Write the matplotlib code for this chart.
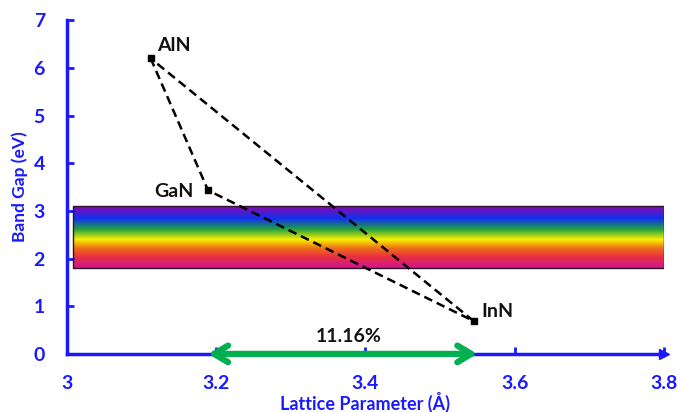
import numpy as np
import matplotlib
matplotlib.use("Agg")
import matplotlib.pyplot as plt
from matplotlib.colors import LinearSegmentedColormap

# lattice parameter (A) and band gap (eV) of the nitrides
materials = ["AlN", "GaN", "InN"]
lattice = [3.112, 3.189, 3.545]
band_gap = [6.2, 3.43, 0.69]

# visible band and mismatch arrow
visible_x = [3.008, 3.8]
visible_gap = [1.8, 3.1]
mismatch_x = [3.189, 3.55]
mismatch_label = "11.16%"

x_ticks = [3, 3.2, 3.4, 3.6, 3.8]
x_tick_labels = ["3", "3.2", "3.4", "3.6", "3.8"]
y_ticks = [0, 1, 2, 3, 4, 5, 6, 7]

BLUE = "#1a1aff"
plt.rcParams['font.family'] = ['Lato', 'DejaVu Sans']

fig = plt.figure(figsize=(6.78, 4.12), dpi=100)
ax = fig.add_axes([0.099, 0.141, 0.88, 0.81])

# rainbow band (bottom -> top)
rainbow = LinearSegmentedColormap.from_list("rb", [
    (0.0, "#d0168e"), (0.18, "#e83040"), (0.32, "#f07018"),
    (0.46, "#f8f000"), (0.63, "#20a040"), (0.80, "#1030f0"),
    (1.0, "#8a0aa8")])
grad = np.linspace(0, 1, 256).reshape(-1, 1)
ax.imshow(grad, cmap=rainbow, origin="lower", aspect="auto",
          extent=[visible_x[0], visible_x[1], visible_gap[0], visible_gap[1]], zorder=1)
ax.add_patch(plt.Rectangle((visible_x[0], visible_gap[0]), visible_x[1] - visible_x[0],
                           visible_gap[1] - visible_gap[0], fill=False,
                           edgecolor="#301030", linewidth=1.0, zorder=2))

# triangle
tx = lattice + [lattice[0]]
ty = band_gap + [band_gap[0]]
ax.plot(tx, ty, "k--", linewidth=1.8, dashes=(3.5, 2), zorder=4)
ax.plot(lattice, band_gap, "ks", markersize=4, zorder=5)

offsets = {"AlN": (0.008, 0.27, "left"), "GaN": (-0.02, -0.02, "right"), "InN": (0.01, 0.2, "left")}
for name, x, y in zip(materials, lattice, band_gap):
    dx, dy, ha = offsets[name]
    ax.text(x + dx, y + dy, name, fontsize=14, fontweight="bold", color="#111111",
            ha=ha, va="center", zorder=6)

# mismatch arrow
ax.annotate("", xy=(mismatch_x[0], 0), xytext=(mismatch_x[1], 0),
            arrowprops=dict(arrowstyle="<->,head_length=1.0,head_width=0.6",
                            color="#00b050", linewidth=4.5, shrinkA=0, shrinkB=0),
            zorder=6, annotation_clip=False)
ax.text(3.378, 0.37, mismatch_label, fontsize=14, fontweight="bold", color="#111111",
        ha="center", va="center")

ax.set_xlim(3, 3.8)
ax.set_ylim(0, 7)
for side in ["top", "right"]:
    ax.spines[side].set_visible(False)
for side in ["left", "bottom"]:
    ax.spines[side].set_color(BLUE)
    ax.spines[side].set_linewidth(2.5)
ax.plot(1, 0, ">", color=BLUE, markersize=7, transform=ax.get_yaxis_transform(), clip_on=False)
ax.plot(0, 1, "^", color=BLUE, markersize=7, transform=ax.get_xaxis_transform(), clip_on=False)

ax.set_xticks(x_ticks)
ax.set_xticklabels(x_tick_labels)
ax.set_yticks(y_ticks)
ax.tick_params(direction="in", color=BLUE, width=2, length=5, labelcolor=BLUE, labelsize=14)
ax.tick_params(axis="x", pad=15)
ax.tick_params(axis="y", pad=16)
for lbl in ax.get_xticklabels() + ax.get_yticklabels():
    lbl.set_fontweight("bold")

ax.set_xlabel("Lattice Parameter (Å)", color=BLUE, fontsize=13, fontweight="bold")
ax.set_ylabel("Band Gap (eV)", color=BLUE, fontsize=12.5, fontweight="bold")
ax.xaxis.set_label_coords(0.5, -0.115)
ax.yaxis.set_label_coords(-0.066, 0.5)

fig.savefig("out.png", dpi=100)
